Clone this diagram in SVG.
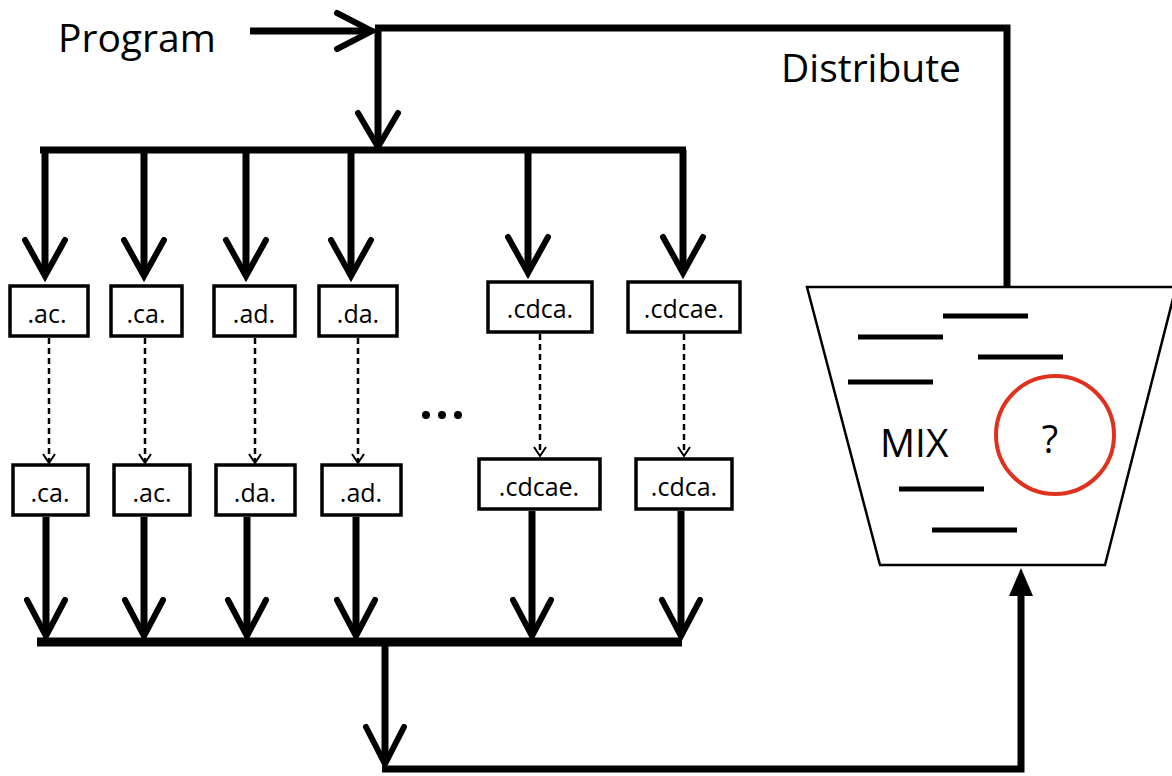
<svg xmlns="http://www.w3.org/2000/svg" width="1172" height="776" viewBox="0 0 1172 776">
<style>
.thick{fill:none;stroke:#000;stroke-width:7;stroke-linecap:butt;stroke-linejoin:miter}
.head{fill:none;stroke:#000;stroke-width:6;stroke-linecap:round;stroke-linejoin:miter}
.dash{fill:none;stroke:#000;stroke-width:2.5;stroke-dasharray:6 4}
.dhead{fill:none;stroke:#000;stroke-width:2}
.box{fill:#fff;stroke:#000;stroke-width:3.5}
.bt{font-family:"Open Sans","Liberation Sans",sans-serif;font-size:25px;text-anchor:middle;fill:#000}
.lbl{font-family:"Open Sans","Liberation Sans",sans-serif;font-size:39px;fill:#000}
.bar{fill:none;stroke:#000;stroke-width:5}
</style>
<rect width="1172" height="776" fill="#fff"/>
<g id="connectors">
  <line class="thick" x1="250" y1="31" x2="370" y2="31"/>
  <polyline class="head" points="337,13 372,31 337,49"/>
  <polyline class="thick" points="375,28 1007,28 1007,286"/>
  <line class="thick" x1="378" y1="28" x2="378" y2="148"/>
  <polyline class="head" points="358,113 378,147 398,113"/>
  <line class="thick" x1="40" y1="150" x2="686" y2="150"/>
  <g>
    <line class="thick" x1="45" y1="150" x2="45" y2="275"/><polyline class="head" points="25,240 45,276 65,240"/>
    <line class="thick" x1="144" y1="150" x2="144" y2="275"/><polyline class="head" points="124,240 144,276 164,240"/>
    <line class="thick" x1="246" y1="150" x2="246" y2="275"/><polyline class="head" points="226,240 246,276 266,240"/>
    <line class="thick" x1="351" y1="150" x2="351" y2="275"/><polyline class="head" points="331,240 351,276 371,240"/>
    <line class="thick" x1="528" y1="150" x2="528" y2="272"/><polyline class="head" points="508,237 528,273 548,237"/>
    <line class="thick" x1="683" y1="150" x2="683" y2="272"/><polyline class="head" points="663,237 683,273 703,237"/>
  </g>
  <g>
    <line class="dash" x1="49" y1="338" x2="49" y2="462"/><polyline class="dhead" points="43,454 49,463 55,454"/>
    <line class="dash" x1="145" y1="338" x2="145" y2="462"/><polyline class="dhead" points="139,454 145,463 151,454"/>
    <line class="dash" x1="255" y1="338" x2="255" y2="462"/><polyline class="dhead" points="249,454 255,463 261,454"/>
    <line class="dash" x1="358" y1="338" x2="358" y2="462"/><polyline class="dhead" points="352,454 358,463 364,454"/>
    <line class="dash" x1="540" y1="334" x2="540" y2="455"/><polyline class="dhead" points="534,447 540,456 546,447"/>
    <line class="dash" x1="684" y1="334" x2="684" y2="455"/><polyline class="dhead" points="678,447 684,456 690,447"/>
  </g>
  <g>
    <line class="thick" x1="46" y1="517" x2="46" y2="634"/><polyline class="head" points="27,600 46,636 65,600"/>
    <line class="thick" x1="144" y1="517" x2="144" y2="634"/><polyline class="head" points="125,600 144,636 163,600"/>
    <line class="thick" x1="247" y1="517" x2="247" y2="634"/><polyline class="head" points="228,600 247,636 266,600"/>
    <line class="thick" x1="356" y1="517" x2="356" y2="634"/><polyline class="head" points="337,600 356,636 375,600"/>
    <line class="thick" x1="532" y1="511" x2="532" y2="634"/><polyline class="head" points="513,600 532,636 551,600"/>
    <line class="thick" x1="681" y1="511" x2="681" y2="634"/><polyline class="head" points="662,600 681,636 700,600"/>
  </g>
  <line x1="37" y1="642" x2="682" y2="642" stroke="#000" stroke-width="9"/>
  <line class="thick" x1="385" y1="642" x2="385" y2="763"/>
  <polyline class="head" points="366,727 385,764 404,727"/>
  <polyline class="thick" points="382,769 1021,769 1021,592"/>
  <polygon points="1021,568 1009,596 1033,596" fill="#000"/>
</g>
<g id="program-label"><text class="lbl" x="58" y="52">Program</text></g>
<g id="distribute-label"><text class="lbl" x="781" y="82">Distribute</text></g>
<g id="box-ac"><rect class="box" x="10" y="286" width="78" height="50"/><text class="bt" x="47" y="323">.ac.</text></g>
<g id="box-ca"><rect class="box" x="111" y="286" width="71" height="50"/><text class="bt" x="146" y="323">.ca.</text></g>
<g id="box-ad"><rect class="box" x="214" y="286" width="81" height="50"/><text class="bt" x="254" y="323">.ad.</text></g>
<g id="box-da"><rect class="box" x="319" y="286" width="78" height="50"/><text class="bt" x="358" y="323">.da.</text></g>
<g id="box-cdca"><rect class="box" x="488" y="282" width="104" height="50"/><text class="bt" x="540" y="318">.cdca.</text></g>
<g id="box-cdcae"><rect class="box" x="628" y="282" width="112" height="50"/><text class="bt" x="684" y="318">.cdcae.</text></g>
<g id="box-ca2"><rect class="box" x="13" y="465" width="75" height="50"/><text class="bt" x="50" y="502">.ca.</text></g>
<g id="box-ac2"><rect class="box" x="114" y="465" width="76" height="50"/><text class="bt" x="152" y="502">.ac.</text></g>
<g id="box-da2"><rect class="box" x="216" y="465" width="79" height="50"/><text class="bt" x="255" y="502">.da.</text></g>
<g id="box-ad2"><rect class="box" x="322" y="465" width="79" height="50"/><text class="bt" x="361" y="502">.ad.</text></g>
<g id="box-cdcae2"><rect class="box" x="479" y="459" width="121" height="50"/><text class="bt" x="539" y="496">.cdcae.</text></g>
<g id="box-cdca2"><rect class="box" x="636" y="459" width="96" height="50"/><text class="bt" x="684" y="496">.cdca.</text></g>
<g id="ellipsis"><circle cx="426" cy="415" r="4"/><circle cx="442" cy="415" r="4"/><circle cx="458" cy="415" r="4"/></g>
<g id="mix">
  <polygon points="807,287 1176,287 1105,565 880,565" fill="#fff" stroke="#000" stroke-width="2.5"/>
  <line class="bar" x1="943" y1="316" x2="1028" y2="316"/>
  <line class="bar" x1="858" y1="337" x2="943" y2="337"/>
  <line class="bar" x1="978" y1="357" x2="1063" y2="357"/>
  <line class="bar" x1="848" y1="382" x2="933" y2="382"/>
  <line class="bar" x1="899" y1="489" x2="984" y2="489"/>
  <line class="bar" x1="932" y1="530" x2="1017" y2="530"/>
  <text class="lbl" x="880" y="457" font-size="38">MIX</text>
  <circle cx="1055" cy="435" r="59" fill="none" stroke="#e0311f" stroke-width="4"/>
  <text x="1050" y="453" font-family="'Open Sans','Liberation Sans',sans-serif" font-size="38" text-anchor="middle">?</text>
</g>
</svg>
